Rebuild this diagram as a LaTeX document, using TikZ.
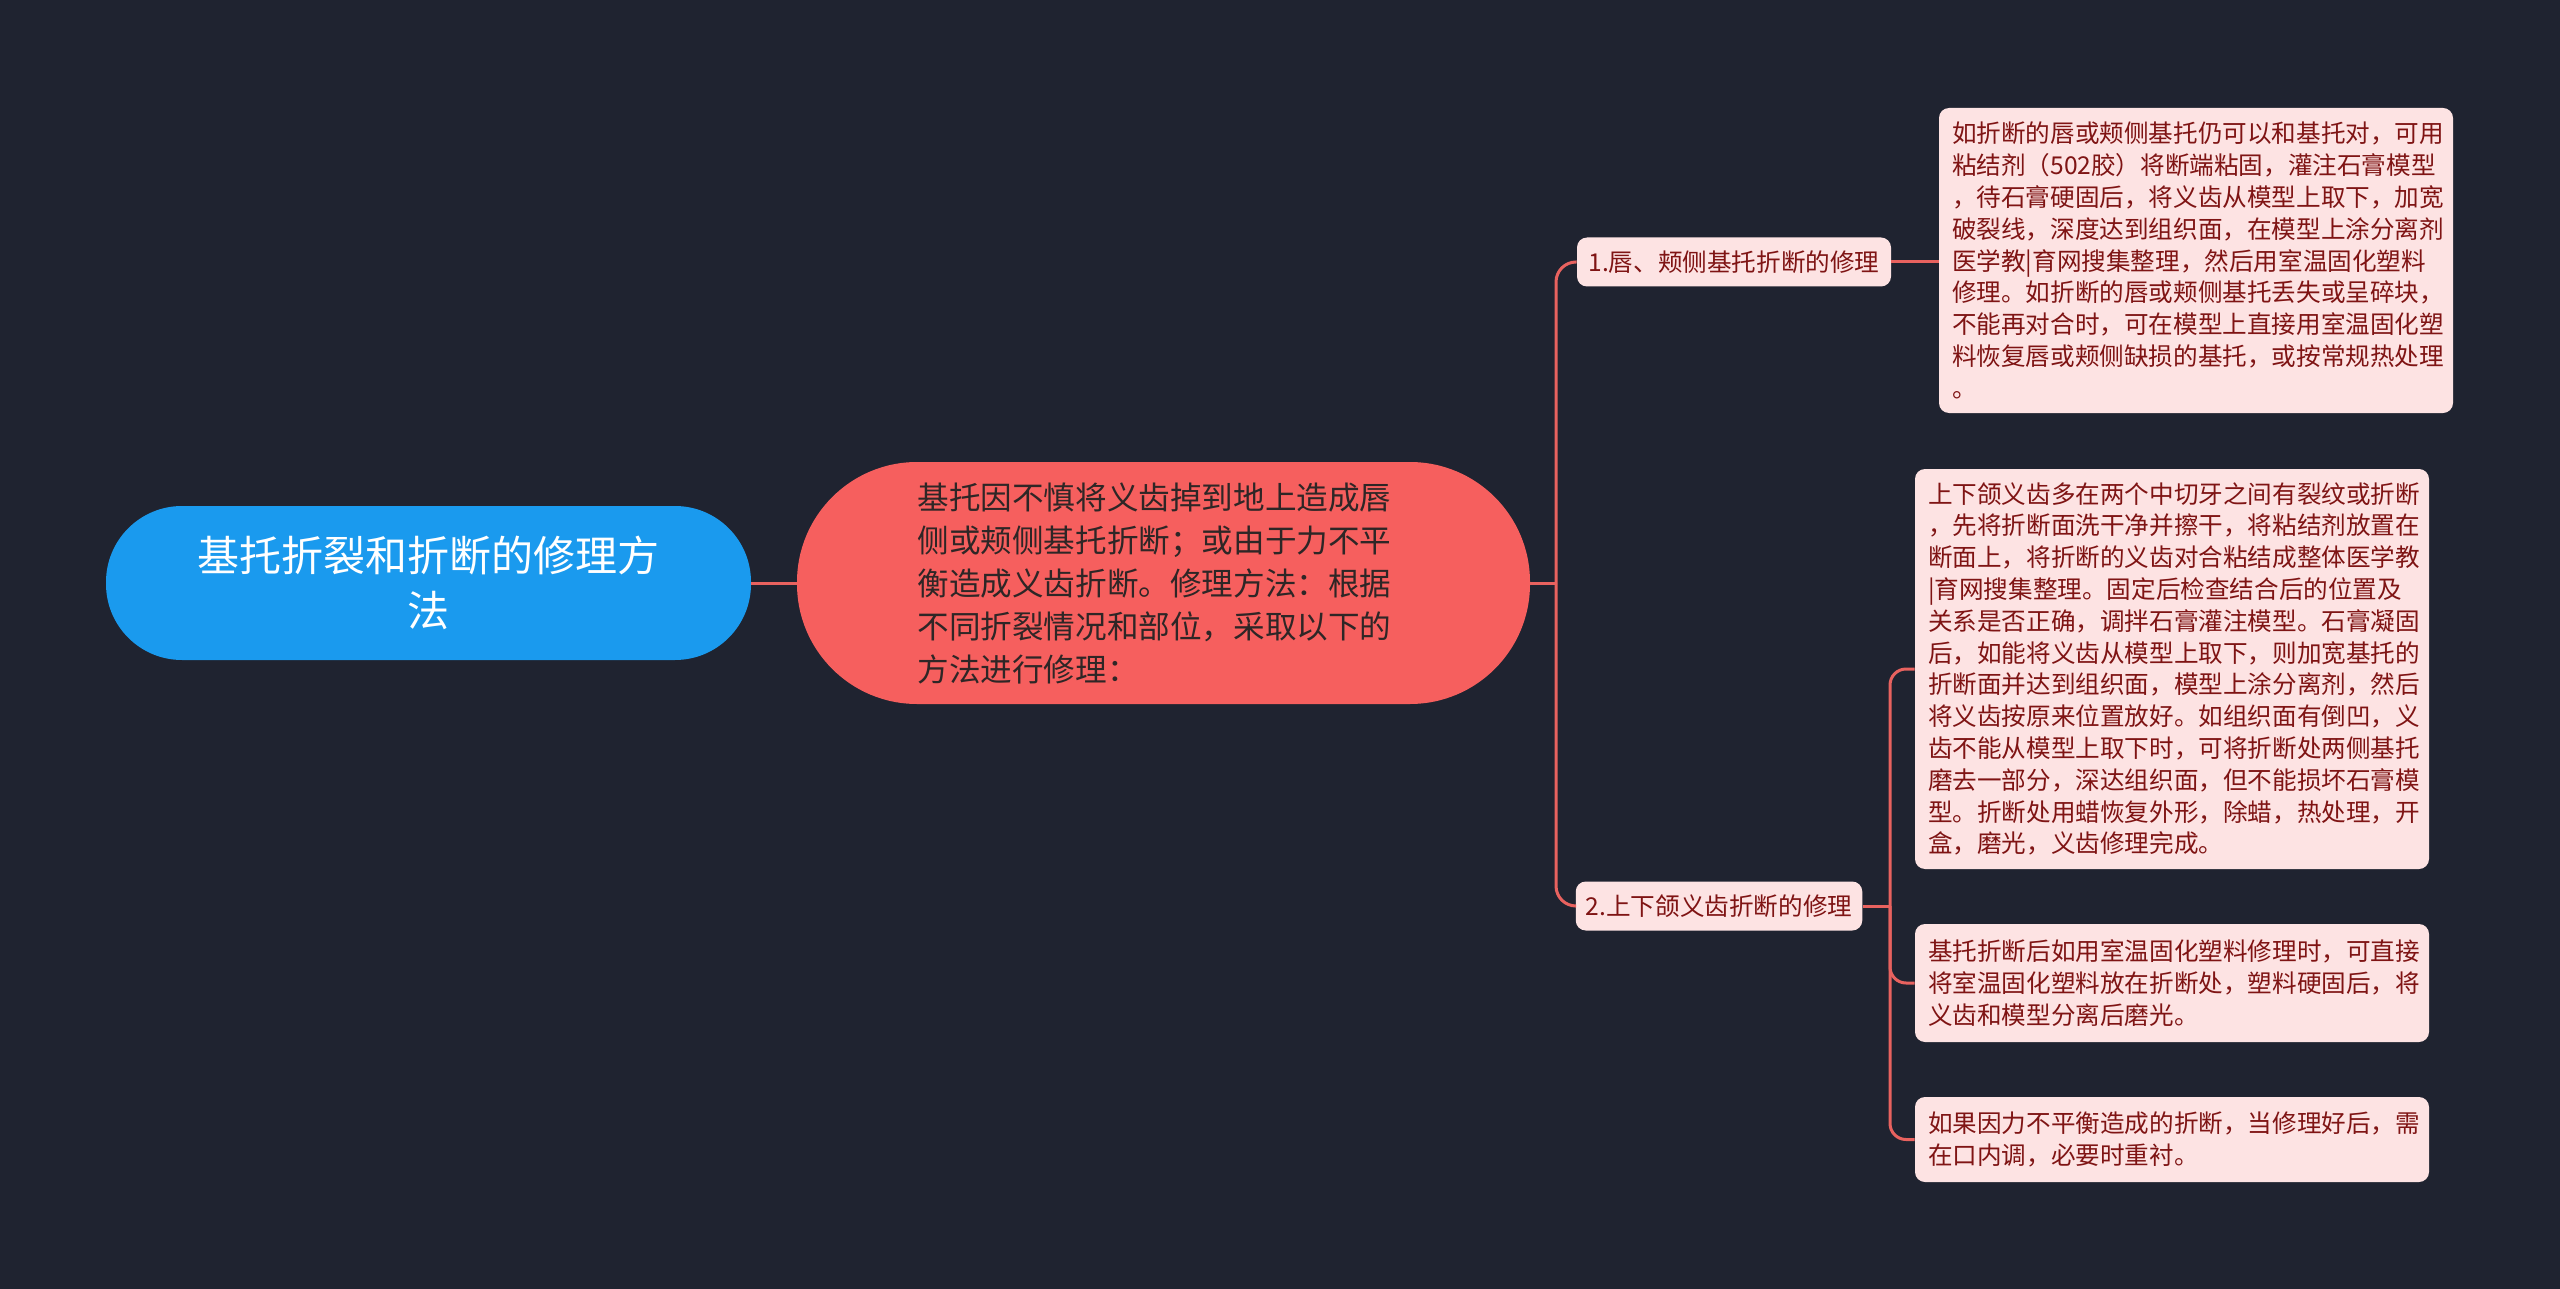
\documentclass[tikz,border=0pt]{standalone}
\usepackage{fontspec}
\setmainfont{Noto Sans CJK SC}
\definecolor{bg}{HTML}{1F2330}
\definecolor{rootblue}{HTML}{1A9AEE}
\definecolor{mainred}{HTML}{F65F5E}
\definecolor{leafpink}{HTML}{FDE3E3}
\definecolor{leaftext}{HTML}{7F1414}
\definecolor{maintext}{HTML}{2E2626}
\definecolor{linec}{HTML}{E8625F}
\tikzset{
  rootbox/.style={fill=rootblue, text=white, rounded corners=38pt, minimum width=322.5pt, minimum height=77pt, align=center, inner sep=0pt, font=\fontsize{21pt}{27.8pt}\selectfont},
  mainbox/.style={fill=mainred, text=maintext, rounded corners=60pt, minimum width=366.5pt, minimum height=121pt, text width=246pt, align=left, inner sep=0pt, font=\fontsize{15.8pt}{21.5pt}\selectfont},
  childbox/.style={fill=leafpink, text=leaftext, rounded corners=5pt, minimum height=24.5pt, inner xsep=5pt, inner ysep=0pt, font=\fontsize{12.3pt}{15.9pt}\selectfont},
  leafbox/.style={fill=leafpink, text=leaftext, rounded corners=5pt, text width=244pt, inner xsep=6.5pt, inner ysep=0pt, align=left, font=\fontsize{12.3pt}{15.9pt}\selectfont},
  conn/.style={draw=linec, line width=1.5pt},
}
\begin{document}
\begin{tikzpicture}[x=0.5pt, y=-0.5pt]
\fill[bg] (0,0) rectangle (2560,1289);
\useasboundingbox (0,0) rectangle (2560,1289);

\node[rootbox] (root) at (428.5,583) {基托折裂和折断的修理方\\法};
\node[mainbox] (main) at (1163.5,583) {基托因不慎将义齿掉到地上造成唇\\侧或颊侧基托折断；或由于力不平\\衡造成义齿折断。修理方法：根据\\不同折裂情况和部位，采取以下的\\方法进行修理：};

\node[childbox, minimum width=157pt] (c1) at (1734,262) {1.唇、颊侧基托折断的修理};
\node[childbox, minimum width=142pt] (c2) at (1719,906) {2.上下颌义齿折断的修理};

\node[leafbox, minimum height=152.5pt] (l1) at (2196,260.5) {如折断的唇或颊侧基托仍可以和基托对，可用\\粘结剂（502胶）将断端粘固，灌注石膏模型\\，待石膏硬固后，将义齿从模型上取下，加宽\\破裂线，深度达到组织面，在模型上涂分离剂\\医学教|育网搜集整理，然后用室温固化塑料\\修理。如折断的唇或颊侧基托丢失或呈碎块，\\不能再对合时，可在模型上直接用室温固化塑\\料恢复唇或颊侧缺损的基托，或按常规热处理\\。};

\node[leafbox, minimum height=200pt] (l2) at (2172,669) {上下颌义齿多在两个中切牙之间有裂纹或折断\\，先将折断面洗干净并擦干，将粘结剂放置在\\断面上，将折断的义齿对合粘结成整体医学教\\|育网搜集整理。固定后检查结合后的位置及\\关系是否正确，调拌石膏灌注模型。石膏凝固\\后，如能将义齿从模型上取下，则加宽基托的\\折断面并达到组织面，模型上涂分离剂，然后\\将义齿按原来位置放好。如组织面有倒凹，义\\齿不能从模型上取下时，可将折断处两侧基托\\磨去一部分，深达组织面，但不能损坏石膏模\\型。折断处用蜡恢复外形，除蜡，热处理，开\\盒，磨光，义齿修理完成。};

\node[leafbox, minimum height=59pt] (l3) at (2172,983) {基托折断后如用室温固化塑料修理时，可直接\\将室温固化塑料放在折断处，塑料硬固后，将\\义齿和模型分离后磨光。};

\node[leafbox, minimum height=42.5pt] (l4) at (2172,1139.5) {如果因力不平衡造成的折断，当修理好后，需\\在口内调，必要时重衬。};

\coordinate (busA) at (1556,583);
\coordinate (busB) at (1890,906);

\draw[conn] (root.east) -- (main.west);
\draw[conn] (main.east) -- (busA);
\draw[conn, rounded corners=10pt] (busA) |- (c1.west);
\draw[conn, rounded corners=10pt] (busA) |- (c2.west);
\draw[conn] (c1.east) -- (c1.east -| l1.west);
\draw[conn] (c2.east) -- (busB);
\draw[conn, rounded corners=8pt] (busB) |- (l2.west);
\draw[conn, rounded corners=8pt] (busB) |- (l3.west);
\draw[conn, rounded corners=8pt] (busB) |- (l4.west);
\end{tikzpicture}
\end{document}
